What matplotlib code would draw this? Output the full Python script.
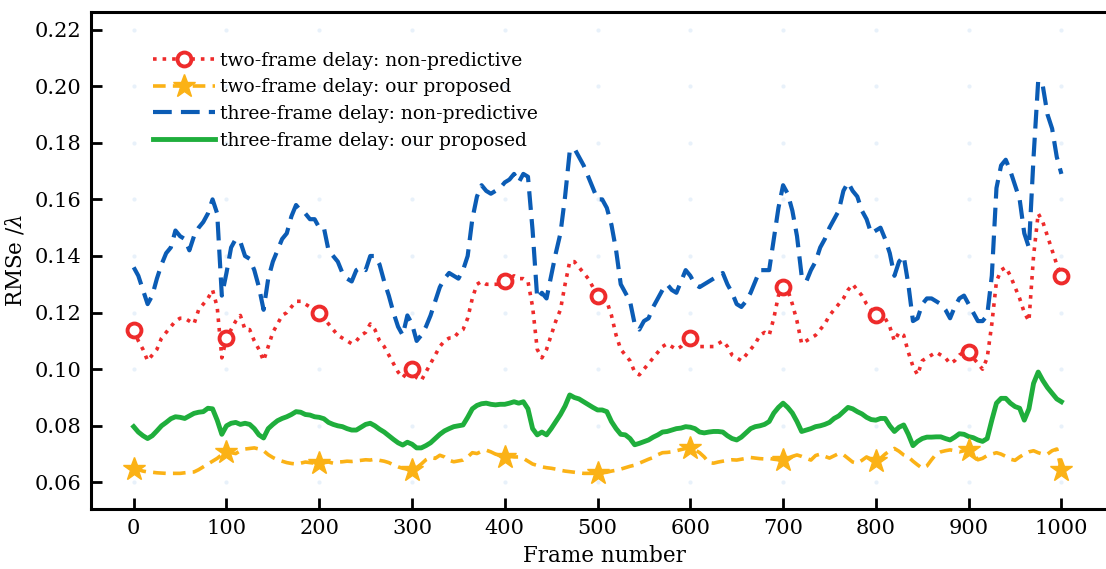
import numpy as np
import matplotlib.pyplot as plt

# frame axis, one sample every 5 frames
frames = np.arange(0, 1001, 5)

# two-frame delay, non-predictive
two_nonpred = [
    0.114, 0.110, 0.107, 0.103, 0.105, 0.107, 0.111, 0.113, 0.115, 0.117,
    0.118, 0.118, 0.117, 0.116, 0.121, 0.123, 0.125, 0.128, 0.122, 0.104,
    0.111, 0.114, 0.117, 0.119, 0.114, 0.114, 0.110, 0.107, 0.103, 0.108,
    0.113, 0.116, 0.119, 0.120, 0.122, 0.124, 0.124, 0.123, 0.122, 0.121,
    0.120, 0.118, 0.116, 0.114, 0.112, 0.111, 0.110, 0.109, 0.110, 0.112,
    0.113, 0.116, 0.114, 0.110, 0.108, 0.105, 0.102, 0.099, 0.097, 0.099,
    0.100, 0.097, 0.096, 0.099, 0.102, 0.105, 0.108, 0.110, 0.111, 0.111,
    0.113, 0.114, 0.118, 0.125, 0.130, 0.131, 0.130, 0.130, 0.130, 0.130,
    0.131, 0.132, 0.133, 0.132, 0.132, 0.131, 0.122, 0.107, 0.104, 0.107,
    0.112, 0.117, 0.121, 0.130, 0.138, 0.138, 0.136, 0.134, 0.132, 0.129,
    0.126, 0.125, 0.124, 0.119, 0.112, 0.107, 0.105, 0.103, 0.099, 0.098,
    0.100, 0.102, 0.104, 0.106, 0.108, 0.109, 0.108, 0.107, 0.108, 0.110,
    0.111, 0.110, 0.108, 0.108, 0.108, 0.108, 0.109, 0.110, 0.108, 0.105,
    0.104, 0.103, 0.105, 0.107, 0.109, 0.112, 0.113, 0.112, 0.118, 0.126,
    0.129, 0.128, 0.123, 0.117, 0.109, 0.110, 0.111, 0.112, 0.114, 0.116,
    0.119, 0.121, 0.123, 0.125, 0.128, 0.130, 0.128, 0.126, 0.123, 0.121,
    0.119, 0.119, 0.118, 0.115, 0.110, 0.113, 0.112, 0.106, 0.101, 0.098,
    0.103, 0.104, 0.105, 0.106, 0.105, 0.104, 0.102, 0.103, 0.105, 0.106,
    0.106, 0.104, 0.102, 0.100, 0.104, 0.116, 0.131, 0.135, 0.136, 0.133,
    0.129, 0.125, 0.120, 0.117, 0.140, 0.155, 0.152, 0.147, 0.142, 0.137,
    0.133,
]

# two-frame delay, our proposed
two_prop = [
    0.0649, 0.0645, 0.0640, 0.0637, 0.0636, 0.0634, 0.0633, 0.0632, 0.0632, 0.0632,
    0.0632, 0.0634, 0.0636, 0.0637, 0.0645, 0.0655, 0.0665, 0.0675, 0.0685, 0.0698,
    0.0708, 0.0705, 0.0702, 0.0712, 0.0718, 0.0720, 0.0722, 0.0718, 0.0712, 0.0698,
    0.0688, 0.0680, 0.0675, 0.0670, 0.0667, 0.0665, 0.0668, 0.0672, 0.0670, 0.0668,
    0.0667, 0.0670, 0.0672, 0.0668, 0.0672, 0.0673, 0.0675, 0.0674, 0.0676, 0.0678,
    0.0680, 0.0679, 0.0682, 0.0678, 0.0675, 0.0670, 0.0662, 0.0655, 0.0650, 0.0647,
    0.0644, 0.0652, 0.0665, 0.0680, 0.0688, 0.0685, 0.0696, 0.0690, 0.0678, 0.0673,
    0.0676, 0.0679, 0.0690, 0.0705, 0.0702, 0.0710, 0.0714, 0.0708, 0.0700, 0.0695,
    0.0690, 0.0692, 0.0690, 0.0690, 0.0685, 0.0675, 0.0665, 0.0660, 0.0655, 0.0652,
    0.0650, 0.0647, 0.0643, 0.0640, 0.0638, 0.0636, 0.0634, 0.0632, 0.0632, 0.0632,
    0.0632, 0.0634, 0.0636, 0.0640, 0.0643, 0.0647, 0.0652, 0.0657, 0.0661, 0.0668,
    0.0675, 0.0682, 0.0688, 0.0698, 0.0705, 0.0706, 0.0708, 0.0712, 0.0716, 0.0720,
    0.0720, 0.0715, 0.0705, 0.0690, 0.0670, 0.0668, 0.0672, 0.0675, 0.0678, 0.0680,
    0.0679, 0.0682, 0.0685, 0.0688, 0.0686, 0.0684, 0.0683, 0.0685, 0.0682, 0.0680,
    0.0679, 0.0685, 0.0692, 0.0697, 0.0692, 0.0685, 0.0679, 0.0695, 0.0700, 0.0692,
    0.0686, 0.0694, 0.0702, 0.0698, 0.0685, 0.0672, 0.0668, 0.0678, 0.0690, 0.0682,
    0.0674, 0.0685, 0.0700, 0.0712, 0.0720, 0.0710, 0.0697, 0.0690, 0.0675, 0.0662,
    0.0650, 0.0658, 0.0680, 0.0700, 0.0708, 0.0712, 0.0715, 0.0712, 0.0708, 0.0712,
    0.0715, 0.0700, 0.0680, 0.0685, 0.0695, 0.0700, 0.0705, 0.0700, 0.0692, 0.0682,
    0.0678, 0.0690, 0.0700, 0.0708, 0.0712, 0.0705, 0.0700, 0.0700, 0.0712, 0.0718,
    0.0645,
]

# three-frame delay, non-predictive
three_nonpred = [
    0.136, 0.133, 0.128, 0.123, 0.126, 0.132, 0.137, 0.141, 0.143, 0.149,
    0.147, 0.146, 0.142, 0.147, 0.150, 0.152, 0.155, 0.160, 0.155, 0.126,
    0.134, 0.143, 0.146, 0.145, 0.140, 0.139, 0.135, 0.129, 0.121, 0.132,
    0.138, 0.142, 0.146, 0.148, 0.154, 0.158, 0.156, 0.155, 0.153, 0.153,
    0.150, 0.150, 0.142, 0.140, 0.138, 0.134, 0.132, 0.131, 0.135, 0.136,
    0.135, 0.140, 0.140, 0.137, 0.131, 0.126, 0.120, 0.115, 0.112, 0.119,
    0.116, 0.110, 0.112, 0.115, 0.119, 0.124, 0.129, 0.132, 0.134, 0.133,
    0.132, 0.135, 0.140, 0.153, 0.161, 0.165, 0.163, 0.162, 0.163, 0.164,
    0.166, 0.167, 0.169, 0.166, 0.169, 0.168, 0.149, 0.125, 0.127, 0.125,
    0.133, 0.141, 0.148, 0.161, 0.177, 0.178, 0.175, 0.172, 0.168, 0.164,
    0.160, 0.160, 0.157, 0.151, 0.142, 0.130, 0.127, 0.124, 0.116, 0.114,
    0.117, 0.118, 0.122, 0.125, 0.128, 0.130, 0.128, 0.127, 0.131, 0.135,
    0.133, 0.130, 0.129, 0.130, 0.131, 0.132, 0.133, 0.134, 0.130, 0.127,
    0.123, 0.122, 0.124, 0.127, 0.131, 0.135, 0.135, 0.135, 0.146, 0.157,
    0.165, 0.162, 0.156, 0.147, 0.133, 0.131, 0.135, 0.138, 0.143, 0.146,
    0.150, 0.153, 0.156, 0.163, 0.166, 0.163, 0.161, 0.156, 0.153, 0.148,
    0.149, 0.150, 0.146, 0.141, 0.133, 0.138, 0.140, 0.130, 0.117, 0.118,
    0.123, 0.125, 0.125, 0.124, 0.123, 0.121, 0.118, 0.122, 0.125, 0.126,
    0.123, 0.120, 0.117, 0.117, 0.119, 0.133, 0.164, 0.172, 0.174, 0.170,
    0.165, 0.160, 0.148, 0.143, 0.175, 0.202, 0.200, 0.190, 0.185, 0.175,
    0.169,
]

# three-frame delay, our proposed
three_prop = [
    0.0797, 0.0778, 0.0765, 0.0755, 0.0765, 0.0782, 0.0800, 0.0812, 0.0825, 0.0832,
    0.0830, 0.0826, 0.0835, 0.0844, 0.0848, 0.0850, 0.0862, 0.0860, 0.0820, 0.0770,
    0.0800, 0.0809, 0.0812, 0.0805, 0.0809, 0.0805, 0.0790, 0.0768, 0.0757, 0.0790,
    0.0805, 0.0818, 0.0826, 0.0832, 0.0840, 0.0850, 0.0848, 0.0840, 0.0838, 0.0832,
    0.0830, 0.0825, 0.0812, 0.0805, 0.0800, 0.0797, 0.0790, 0.0785, 0.0785, 0.0795,
    0.0805, 0.0809, 0.0800, 0.0788, 0.0778, 0.0765, 0.0752, 0.0740, 0.0732, 0.0742,
    0.0735, 0.0722, 0.0722, 0.0730, 0.0740, 0.0755, 0.0770, 0.0782, 0.0790, 0.0797,
    0.0800, 0.0803, 0.0830, 0.0860, 0.0872, 0.0878, 0.0880, 0.0876, 0.0874, 0.0876,
    0.0876, 0.0880, 0.0885, 0.0880, 0.0885, 0.0860, 0.0790, 0.0768, 0.0778, 0.0768,
    0.0790, 0.0815, 0.0840, 0.0870, 0.0909, 0.0900, 0.0895, 0.0885, 0.0875, 0.0865,
    0.0856, 0.0856, 0.0850, 0.0815, 0.0790, 0.0770, 0.0768, 0.0755, 0.0733, 0.0738,
    0.0744, 0.0750, 0.0760, 0.0768, 0.0778, 0.0780, 0.0785, 0.0790, 0.0792, 0.0797,
    0.0795, 0.0790, 0.0778, 0.0775, 0.0778, 0.0780, 0.0780, 0.0778, 0.0765, 0.0755,
    0.0750, 0.0760, 0.0775, 0.0790, 0.0797, 0.0800, 0.0805, 0.0815, 0.0845, 0.0865,
    0.0880, 0.0865, 0.0845, 0.0815, 0.0780, 0.0785, 0.0790, 0.0797, 0.0800, 0.0805,
    0.0812, 0.0826, 0.0835, 0.0850, 0.0865, 0.0860, 0.0850, 0.0842, 0.0830, 0.0822,
    0.0820, 0.0826, 0.0826, 0.0800, 0.0780, 0.0795, 0.0803, 0.0770, 0.0730, 0.0745,
    0.0755, 0.0760, 0.0760, 0.0761, 0.0761, 0.0755, 0.0750, 0.0760, 0.0772, 0.0770,
    0.0762, 0.0758, 0.0750, 0.0745, 0.0755, 0.0820, 0.0880, 0.0897, 0.0897, 0.0880,
    0.0868, 0.0862, 0.0820, 0.0860, 0.0950, 0.0990, 0.0960, 0.0935, 0.0915, 0.0895,
    0.0885,
]

x_ticks = np.arange(0, 1001, 100)
y_ticks = np.arange(0.06, 0.2201, 0.02)

plt.rcParams['font.family'] = ['DejaVu Serif']
plt.rcParams['mathtext.fontset'] = 'dejavuserif'

fig = plt.figure(figsize=(11.06, 5.69), dpi=100)
ax = fig.add_axes([0.0823, 0.1054, 0.9277, 0.8735])

red = '#ee2b2b'
yellow = '#fbb216'
blue = '#0b5cb5'
green = '#1fae3c'

every = 20  # a marker every 100 frames

ax.plot(frames, three_nonpred, color=blue, lw=3.0, dashes=(4.5, 2.2),
        label='three-frame delay: non-predictive', zorder=3)
ax.plot(frames, three_prop, color=green, lw=3.5,
        label='three-frame delay: our proposed', zorder=3)
ax.plot(frames, two_nonpred, color=red, lw=2.6, ls=':', marker='o',
        markevery=every, ms=10, mfc='white', mec=red, mew=2.8,
        label='two-frame delay: non-predictive', zorder=4)
ax.plot(frames, two_prop, color=yellow, lw=2.6, dashes=(3.5, 2.0), marker='*',
        markevery=every, ms=17, mfc=yellow, mec=yellow,
        label='two-frame delay: our proposed', zorder=4)

# faint dots at the grid crossings
gx, gy = np.meshgrid(x_ticks, y_ticks)
ax.plot(gx.ravel(), gy.ravel(), ls='none', marker='o', ms=2, color='#e8f1fa',
        zorder=1)

ax.set_xlim(-46, 1060)
ax.set_ylim(0.0506, 0.2262)
ax.set_xticks(x_ticks)
ax.set_yticks(y_ticks)
ax.set_yticklabels([f'{v:.2f}' for v in y_ticks])
ax.tick_params(direction='in', length=8, width=2, labelsize=15, pad=7)
for s in ax.spines.values():
    s.set_linewidth(2.2)

ax.set_xlabel('Frame number', fontsize=15.5, labelpad=5)
ax.set_ylabel(r'RMSe /$\lambda$', fontsize=15.5, labelpad=6)

h, l = ax.get_legend_handles_labels()
order = [2, 3, 0, 1]
ax.legend([h[i] for i in order], [l[i] for i in order], loc='upper left',
          bbox_to_anchor=(0.053, 0.935), frameon=False, fontsize=13.5,
          handlelength=3.3, handletextpad=0.3, labelspacing=0.46,
          borderaxespad=0.0, numpoints=1)

fig.savefig('out.png', dpi=100)
